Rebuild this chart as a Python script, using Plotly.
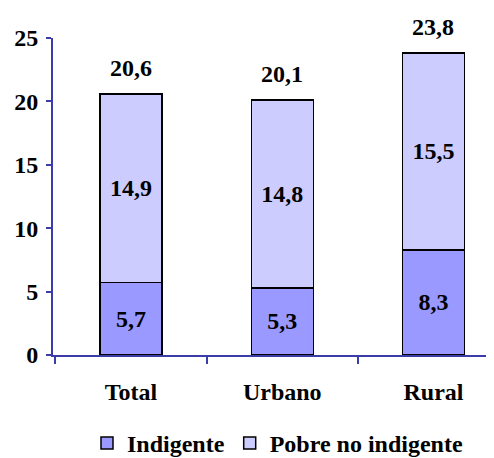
import plotly.graph_objects as go

categories = ["Total", "Urbano", "Rural"]
indigente = [5.7, 5.3, 8.3]
pobre_no_indigente = [14.9, 14.8, 15.5]
totals = [20.6, 20.1, 23.8]
y_ticks = [0, 5, 10, 15, 20, 25]

FONT = dict(family="Liberation Serif, DejaVu Serif", size=24, color="black", weight="bold")
AXIS_COLOR = "#3c3ca8"

fig = go.Figure()

fig.add_trace(go.Bar(
    x=categories, y=indigente, name="Indigente",
    marker=dict(color="#9999ff", line=dict(color="black", width=1.5)),
    texttemplate="%{y:.1f}", textposition="inside", insidetextanchor="middle",
    textfont=FONT, textangle=0, width=0.41,
))
fig.add_trace(go.Bar(
    x=categories, y=pobre_no_indigente, name="Pobre no indigente",
    marker=dict(color="#ccccff", line=dict(color="black", width=1.5)),
    texttemplate="%{y:.1f}", textposition="inside", insidetextanchor="middle",
    textfont=FONT, textangle=0, width=0.41,
))

# totals above each bar
for cat, tot in zip(categories, totals):
    fig.add_annotation(x=cat, y=tot, text=f"{tot:.1f}".replace(".", ","),
                       showarrow=False, yanchor="bottom", yshift=11, font=FONT)

fig.update_layout(
    width=494, height=458,
    barmode="stack",
    separators=",.",
    plot_bgcolor="white", paper_bgcolor="white",
    margin=dict(l=45, r=0, t=30, b=110),
    font=FONT,
    legend=dict(orientation="h", x=0.5, xanchor="center", y=-0.21, yanchor="top",
                font=FONT, itemwidth=30, traceorder="normal"),
)

fig.update_xaxes(
    type="category", range=[-0.516, 2.453],
    showline=True, linecolor=AXIS_COLOR, linewidth=2,
    ticks="outside", tickson="boundaries", ticklen=7, tickcolor=AXIS_COLOR, tickwidth=2,
    showgrid=False, tickfont=FONT, ticklabelstandoff=14,
)
fig.update_yaxes(
    range=[0, 25], tickvals=y_ticks,
    showline=True, linecolor=AXIS_COLOR, linewidth=2,
    ticks="outside", ticklen=5, tickcolor=AXIS_COLOR, tickwidth=2,
    showgrid=False, zeroline=False, tickfont=FONT, ticklabelstandoff=3,
)

fig.write_html("out.html")
